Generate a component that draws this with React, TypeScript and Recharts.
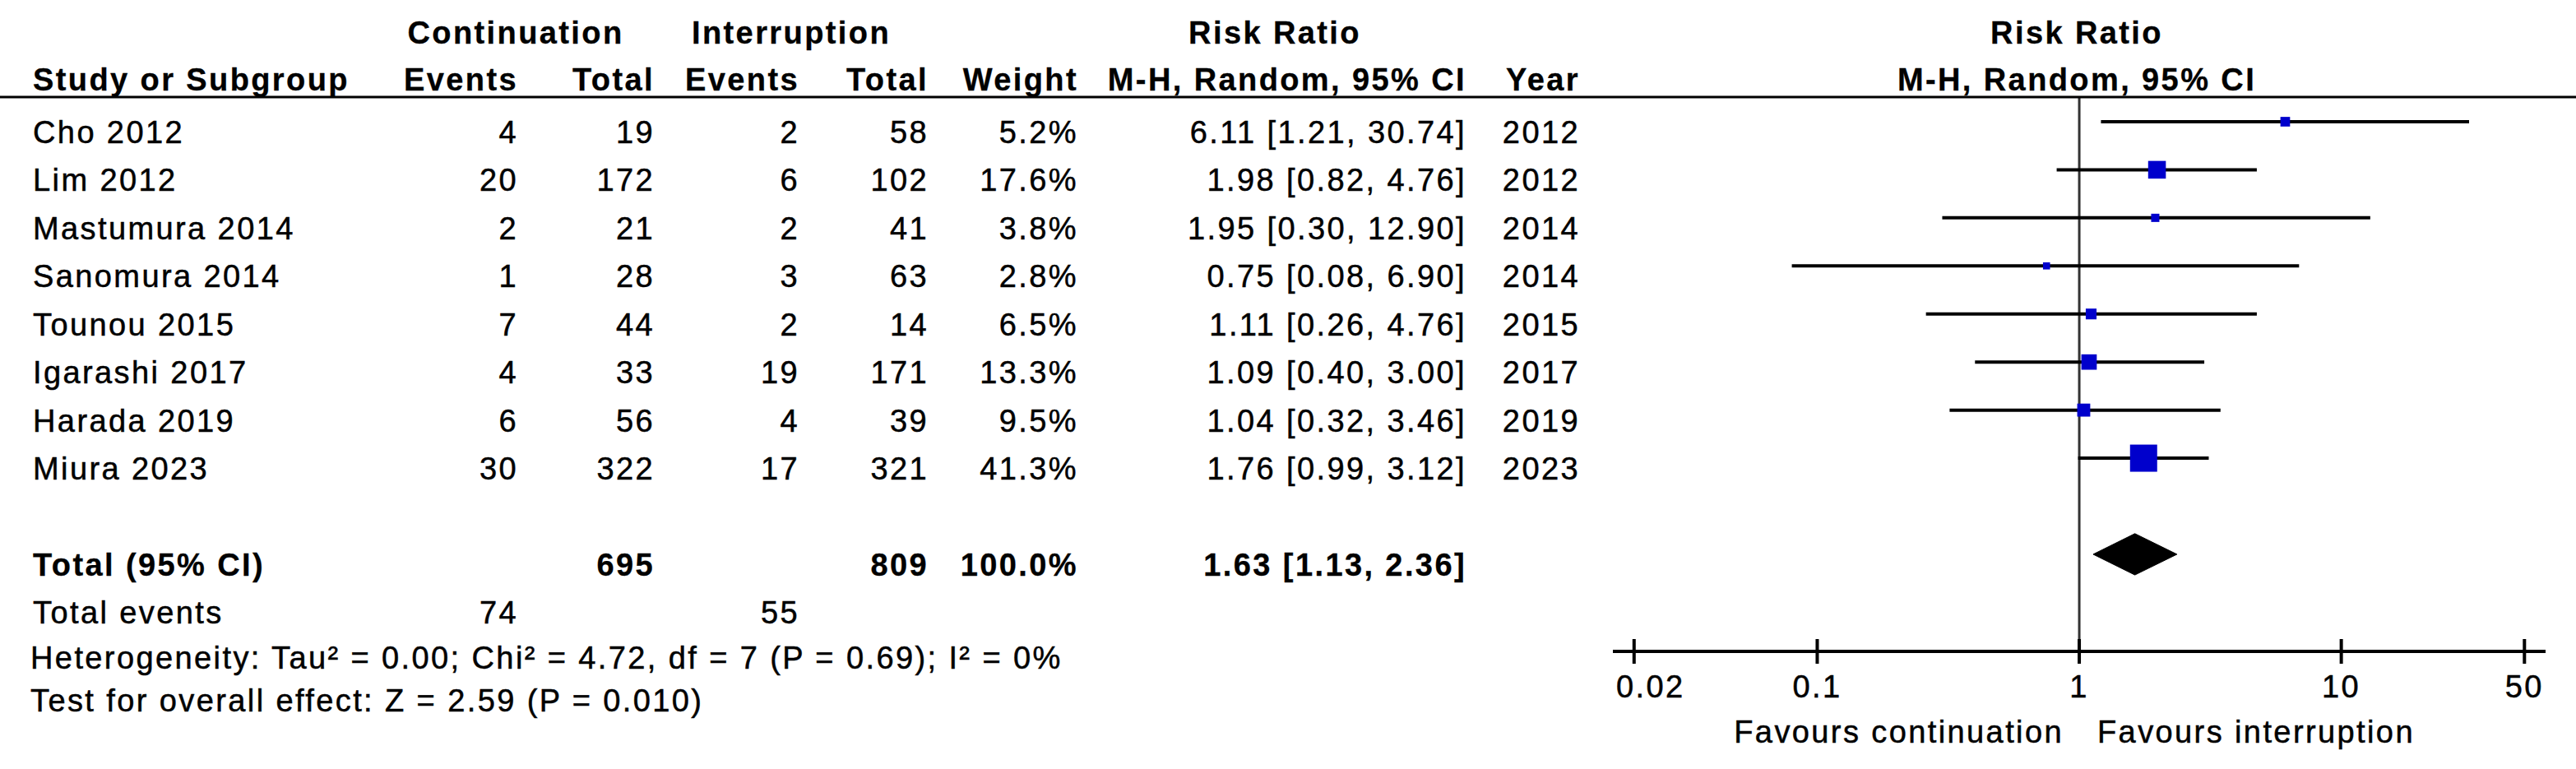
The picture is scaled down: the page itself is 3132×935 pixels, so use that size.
import React from 'react';
import { ComposedChart, Scatter, ErrorBar, Area, XAxis, YAxis, ReferenceLine } from 'recharts';

const studies = ['Cho 2012', 'Lim 2012', 'Mastumura 2014', 'Sanomura 2014', 'Tounou 2015', 'Igarashi 2017', 'Harada 2019', 'Miura 2023'];
const contEvents = [4, 20, 2, 1, 7, 4, 6, 30];
const contTotal = [19, 172, 21, 28, 44, 33, 56, 322];
const intEvents = [2, 6, 2, 3, 2, 19, 4, 17];
const intTotal = [58, 102, 41, 63, 14, 171, 39, 321];
const weights = [5.2, 17.6, 3.8, 2.8, 6.5, 13.3, 9.5, 41.3];
const riskRatio = [6.11, 1.98, 1.95, 0.75, 1.11, 1.09, 1.04, 1.76];
const ciLow = [1.21, 0.82, 0.3, 0.08, 0.26, 0.4, 0.32, 0.99];
const ciHigh = [30.74, 4.76, 12.9, 6.9, 4.76, 3.0, 3.46, 3.12];
const years = [2012, 2012, 2014, 2014, 2015, 2017, 2019, 2023];

const pooled = { rr: 1.63, low: 1.13, high: 2.36 };
const pooledTotals = { cont: 695, int: 809, weight: 100.0 };
const totalEvents = { cont: 74, int: 55 };
const heterogeneity = 'Heterogeneity: Tau² = 0.00; Chi² = 4.72, df = 7 (P = 0.69); I² = 0%';
const overallEffect = 'Test for overall effect: Z = 2.59 (P = 0.010)';
const axisTicks = [0.02, 0.1, 1, 10, 50];

const W = 3132;
const H = 935;
const FONT = "'Liberation Sans', Arial, sans-serif";
const FS = 38;
const LS = '2.4px';
const BLUE = '#0000cc';
const MAX_BOX = 33;
const TOTAL_ROW = studies.length + 1;
const DIAMOND_HALF = 0.43;

// columns of the left-hand table (x of text anchor)
const COL = { name: 40, cEv: 630, cTot: 796, iEv: 972, iTot: 1129, weight: 1311, ci: 1783, year: 1921 };

const fmtCI = (r: number, l: number, h: number) => `${r.toFixed(2)} [${l.toFixed(2)}, ${h.toFixed(2)}]`;

const studyRows = studies.map((name, i) => ({
  x: riskRatio[i],
  y: i,
  ci: [riskRatio[i] - ciLow[i], ciHigh[i] - riskRatio[i]],
  weight: weights[i],
}));

const tableRows = [
  ...studies.map((name, i) => ({
    x: 1,
    y: i,
    bold: false,
    cells: {
      name,
      cEv: String(contEvents[i]),
      cTot: String(contTotal[i]),
      iEv: String(intEvents[i]),
      iTot: String(intTotal[i]),
      weight: `${weights[i].toFixed(1)}%`,
      ci: fmtCI(riskRatio[i], ciLow[i], ciHigh[i]),
      year: String(years[i]),
    } as Record<string, string>,
  })),
  {
    x: 1,
    y: TOTAL_ROW,
    bold: true,
    cells: {
      name: 'Total (95% CI)',
      cTot: String(pooledTotals.cont),
      iTot: String(pooledTotals.int),
      weight: `${pooledTotals.weight.toFixed(1)}%`,
      ci: fmtCI(pooled.rr, pooled.low, pooled.high),
    } as Record<string, string>,
  },
  {
    x: 1,
    y: TOTAL_ROW + 1,
    bold: false,
    cells: { name: 'Total events', cEv: String(totalEvents.cont), iEv: String(totalEvents.int) } as Record<string, string>,
  },
];

const diamond = [
  { x: pooled.low, band: [TOTAL_ROW, TOTAL_ROW] },
  { x: pooled.rr, band: [TOTAL_ROW - DIAMOND_HALF, TOTAL_ROW + DIAMOND_HALF] },
  { x: pooled.high, band: [TOTAL_ROW, TOTAL_ROW] },
];

const txt = (bold = false) => ({
  fontFamily: FONT,
  fontSize: FS,
  fontWeight: bold ? 700 : 400,
  fill: '#000',
  stroke: '#000',
  strokeWidth: bold ? 0.3 : 0.5,
  style: { letterSpacing: LS },
});

const TableRow = (props: any) => {
  const { cy, payload } = props;
  const base = cy + 26;
  const c = payload.cells;
  return (
    <g>
      {Object.keys(c).map((k) => (
        <text key={k} x={(COL as any)[k]} y={base} textAnchor={k === 'name' ? 'start' : 'end'} {...txt(payload.bold)}>
          {c[k]}
        </text>
      ))}
    </g>
  );
};

const maxW = Math.max(...weights);
const Box = (props: any) => {
  const { cx, cy, payload } = props;
  const side = MAX_BOX * Math.sqrt(payload.weight / maxW);
  return <rect x={cx - side / 2} y={cy - side / 2} width={side} height={side} fill={BLUE} />;
};

const AxisTick = (props: any) => {
  const { x, y, payload, index } = props;
  const dx = index === 0 ? 20 : 0;
  return (
    <g>
      <line x1={x} x2={x} y1={y - 15} y2={y + 15} stroke="#000" strokeWidth={4} />
      <text x={x + dx} y={y + 56} textAnchor="middle" {...txt()}>
        {payload.value}
      </text>
    </g>
  );
};

const Overlay = () => (
  <svg width={W} height={H} style={{ position: 'absolute', left: 0, top: 0, pointerEvents: 'none' }}>
    <text x={627} y={53} textAnchor="middle" {...txt(true)}>Continuation</text>
    <text x={962} y={53} textAnchor="middle" {...txt(true)}>Interruption</text>
    <text x={1550} y={53} textAnchor="middle" {...txt(true)}>Risk Ratio</text>
    <text x={2525} y={53} textAnchor="middle" {...txt(true)}>Risk Ratio</text>
    <text x={COL.name} y={110} textAnchor="start" {...txt(true)}>Study or Subgroup</text>
    <text x={COL.cEv} y={110} textAnchor="end" {...txt(true)}>Events</text>
    <text x={COL.cTot} y={110} textAnchor="end" {...txt(true)}>Total</text>
    <text x={COL.iEv} y={110} textAnchor="end" {...txt(true)}>Events</text>
    <text x={COL.iTot} y={110} textAnchor="end" {...txt(true)}>Total</text>
    <text x={COL.weight} y={110} textAnchor="end" {...txt(true)}>Weight</text>
    <text x={COL.ci} y={110} textAnchor="end" {...txt(true)}>M-H, Random, 95% CI</text>
    <text x={COL.year} y={110} textAnchor="end" {...txt(true)}>Year</text>
    <text x={2525} y={110} textAnchor="middle" {...txt(true)}>M-H, Random, 95% CI</text>
    <line x1={0} x2={W} y1={118} y2={118} stroke="#000" strokeWidth={3} />
    <text x={37} y={813} {...txt()}>{heterogeneity}</text>
    <text x={37} y={865} {...txt()}>{overallEffect}</text>
    <text x={2509} y={903} textAnchor="end" {...txt()}>Favours continuation</text>
    <text x={2550} y={903} textAnchor="start" {...txt()}>Favours interruption</text>
  </svg>
);

export default function App() {
  return (
    <div style={{ position: 'absolute', left: 0, top: 0, width: W, height: H, background: '#fff' }}>
      <ComposedChart width={W} height={H} margin={{ top: 118, right: 37, bottom: 0, left: 1961 }}>
        <XAxis
          type="number"
          dataKey="x"
          scale="log"
          domain={[0.0166, 60.2]}
          ticks={axisTicks}
          height={143}
          tickSize={0}
          tickMargin={0}
          tickLine={false}
          axisLine={{ stroke: '#000', strokeWidth: 4 }}
          tick={<AxisTick />}
          interval={0}
        />
        <YAxis type="number" dataKey="y" domain={[-0.513, 11.02]} reversed hide width={0} />
        <ReferenceLine x={1} stroke="#333" strokeWidth={3} />
        <Scatter data={studyRows} shape={() => <g />} isAnimationActive={false}>
          <ErrorBar dataKey="ci" direction="x" width={0} stroke="#000" strokeWidth={4} isAnimationActive={false} />
        </Scatter>
        <Scatter data={studyRows} shape={<Box />} isAnimationActive={false} />
        <Area
          data={diamond}
          dataKey="band"
          type="linear"
          stroke="#000"
          strokeWidth={1}
          fill="#000"
          fillOpacity={1}
          dot={false}
          activeDot={false}
          isAnimationActive={false}
        />
        <Scatter data={tableRows} shape={<TableRow />} isAnimationActive={false} />
      </ComposedChart>
      <Overlay />
    </div>
  );
}
